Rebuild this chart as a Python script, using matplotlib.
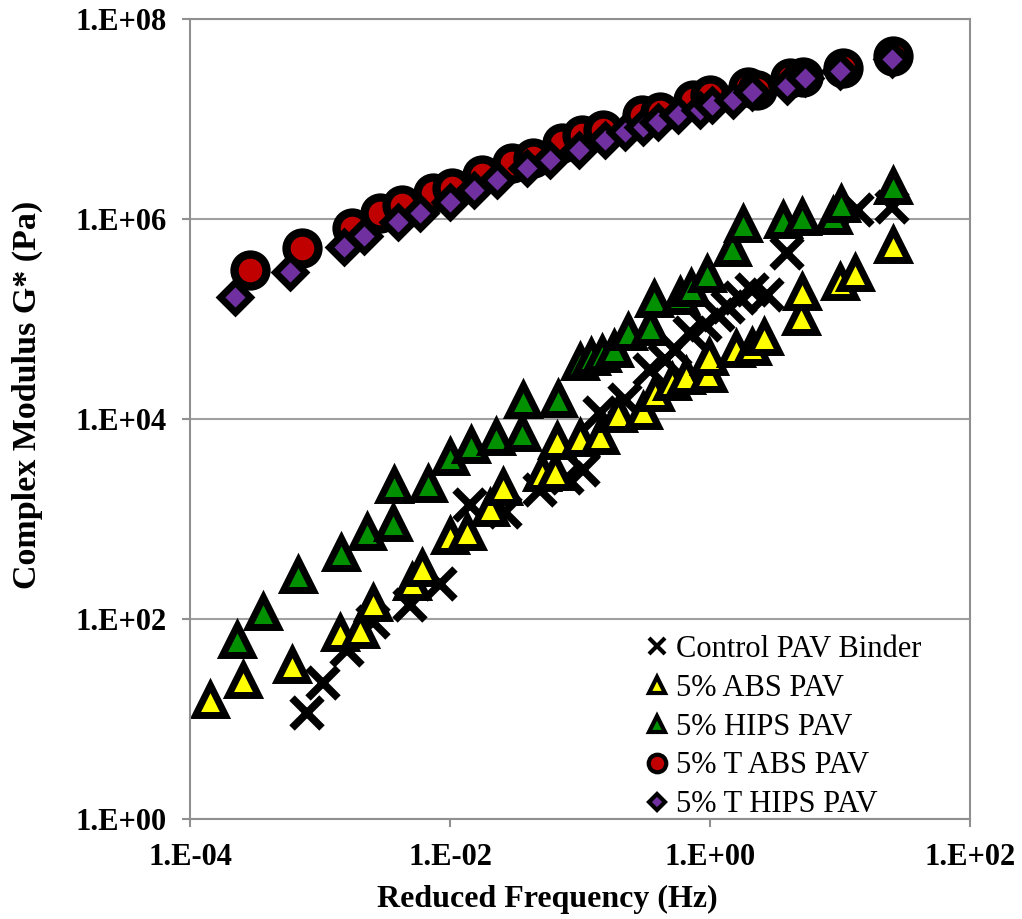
import numpy as np
import matplotlib
matplotlib.use("Agg")
import matplotlib.pyplot as plt
from matplotlib.ticker import FixedLocator, FuncFormatter, NullLocator

plt.rcParams['font.family'] = ['Liberation Serif', 'DejaVu Serif']

# reduced frequency (Hz) and |G*| (Pa) per binder
ctrl_f = [7.94e-4, 1.05e-3, 1.61e-3, 2.56e-3, 4.92e-3, 8.38e-3, 1.43e-2, 2.65e-2,
          4.92e-2, 7.94e-2, 0.105, 0.143, 0.222, 0.345, 0.451, 0.538, 0.701,
          0.916, 1.15, 1.37, 1.70, 2.10, 2.74, 3.91, 13.5, 25.1]
ctrl_g = [11.5, 22.9, 49.0, 93.3, 138, 224, 1380, 1175, 1950, 2570, 3090,
          11500, 15500, 30900, 38900, 49000, 72400, 87100, 1.10e5, 1.32e5,
          1.62e5, 1.95e5, 1.74e5, 4.57e5, 1.23e6, 1.32e6]

abs_f = [1.43e-4, 2.56e-4, 6.10e-4, 1.43e-3, 2.03e-3, 2.56e-3, 5.11e-3, 6.10e-3,
         1.0e-2, 1.35e-2, 2.03e-2, 2.56e-2, 5.11e-2, 6.43e-2, 6.65e-2, 0.1,
         0.143, 0.196, 0.305, 0.378, 0.511, 0.653, 0.966, 0.98, 1.58, 2.10,
         2.60, 5.01, 5.11, 10.0, 13.0, 25.6]
abs_g = [15.5, 24.5, 34.7, 72.4, 77.6, 145, 234, 324, 676, 741, 1290, 2090,
         2880, 2950, 6030, 6460, 6760, 11200, 12000, 18200, 23400, 26900,
         28200, 41700, 50100, 52500, 66100, 1.05e5, 1.86e5, 2.34e5, 2.88e5,
         5.50e5]

hips_f = [2.30e-4, 3.65e-4, 6.78e-4, 1.45e-3, 2.30e-3, 3.65e-3, 3.70e-3, 6.78e-3,
          1.0e-2, 1.45e-2, 2.26e-2, 3.58e-2, 3.65e-2, 6.78e-2, 0.1, 0.122,
          0.148, 0.183, 0.234, 0.345, 0.371, 0.587, 0.714, 0.948, 1.48, 1.79,
          3.65, 5.11, 8.83, 10.2, 25.6]
hips_g = [61.7, 117, 275, 457, 741, 912, 2190, 2240, 4170, 5500, 6610, 7240,
          15500, 15800, 37200, 41700, 44700, 50100, 74100, 83200, 1.58e5,
          1.70e5, 2.04e5, 2.82e5, 5.13e5, 8.91e5, 9.77e5, 1.05e6, 1.07e6,
          1.41e6, 2.14e6]

tabs_f = [2.90e-4, 7.28e-4, 1.76e-3, 2.90e-3, 4.28e-3, 7.40e-3, 1.04e-2, 1.76e-2,
          3.00e-2, 4.35e-2, 7.28e-2, 0.104, 0.150, 0.300, 0.412, 0.740, 1.0,
          1.96, 2.30, 4.12, 5.19, 10.5, 25.6]
tabs_g = [3.09e5, 5.13e5, 8.13e5, 1.15e6, 1.38e6, 1.82e6, 2.04e6, 2.75e6,
          3.63e6, 4.07e6, 5.75e6, 6.92e6, 7.76e6, 1.10e7, 1.17e7, 1.55e7,
          1.74e7, 2.09e7, 1.95e7, 2.57e7, 2.63e7, 3.24e7, 4.27e7]

thips_f = [2.22e-4, 5.87e-4, 1.53e-3, 2.18e-3, 3.98e-3, 5.87e-3, 1.0e-2, 1.53e-2,
           2.30e-2, 3.91e-2, 5.87e-2, 9.82e-2, 0.156, 0.222, 0.305, 0.398,
           0.568, 0.838, 1.04, 1.50, 2.10, 3.91, 5.38, 10.0, 25.1]
thips_g = [1.66e5, 2.95e5, 5.25e5, 6.76e5, 9.33e5, 1.15e6, 1.48e6, 1.95e6,
           2.45e6, 3.24e6, 3.89e6, 4.90e6, 6.17e6, 7.41e6, 8.32e6, 9.33e6,
           1.10e7, 1.23e7, 1.38e7, 1.55e7, 1.86e7, 2.14e7, 2.57e7, 3.02e7,
           3.98e7]

labels = ['Control PAV Binder', '5% ABS PAV', '5% HIPS PAV',
          '5% T ABS PAV', '5% T HIPS PAV']

fig = plt.figure(figsize=(10.22, 9.19), dpi=100)
ax = fig.add_axes([0.186, 0.1088, 0.763, 0.8705])

ax.plot(ctrl_f, ctrl_g, ls='none', marker='x', ms=22, mew=5.5,
        color='black', label=labels[0])
ax.plot(abs_f, abs_g, ls='none', marker='^', ms=21, mew=5,
        mfc='#FFFF00', mec='black', label=labels[1])
ax.plot(hips_f, hips_g, ls='none', marker='^', ms=21, mew=5,
        mfc='#009000', mec='black', label=labels[2])
ax.plot(tabs_f, tabs_g, ls='none', marker='o', ms=23, mew=6,
        mfc='#C00000', mec='black', label=labels[3])
ax.plot(thips_f, thips_g, ls='none', marker='D', ms=15, mew=5,
        mfc='#7030A0', mec='black', label=labels[4])

ax.set_xscale('log')
ax.set_yscale('log')
ax.set_xlim(1e-4, 1e2)
ax.set_ylim(1e0, 1e8)

fmt = FuncFormatter(lambda v, p: '1.E%+03d' % int(round(np.log10(v))))
ax.xaxis.set_major_locator(FixedLocator([1e-4, 1e-2, 1e0, 1e2]))
ax.yaxis.set_major_locator(FixedLocator([1e0, 1e2, 1e4, 1e6, 1e8]))
ax.xaxis.set_minor_locator(NullLocator())
ax.yaxis.set_minor_locator(NullLocator())
ax.xaxis.set_major_formatter(fmt)
ax.yaxis.set_major_formatter(fmt)

ax.grid(axis='y', color='#A0A0A0', lw=1.5)
ax.set_axisbelow(True)
for s in ax.spines.values():
    s.set_color('#909090')
    s.set_linewidth(1.5)
ax.tick_params(axis='both', direction='out', length=6, width=1.5,
               color='#909090', labelsize=22)
ax.tick_params(axis='y', pad=11)
ax.tick_params(axis='x', pad=11)
for t in ax.get_xticklabels() + ax.get_yticklabels():
    t.set_fontweight('bold')

ax.set_xlabel('Reduced Frequency (Hz)', fontsize=23, fontweight='bold')
ax.set_ylabel('Complex Modulus G* (Pa)', fontsize=24.5, fontweight='bold')
ax.xaxis.set_label_coords(0.458, -0.082)
ax.yaxis.set_label_coords(-0.188, 0.53)

leg = ax.legend(loc='lower left', bbox_to_anchor=(0.556, -0.027), frameon=False,
                fontsize=22, markerscale=0.55, handlelength=0.8,
                handletextpad=0.2, labelspacing=0.32, borderpad=0.2)
# thinner outlines on the small legend symbols
for h in leg.legend_handles:
    h.set_markeredgewidth(3)

fig.savefig('out.png', dpi=100)
